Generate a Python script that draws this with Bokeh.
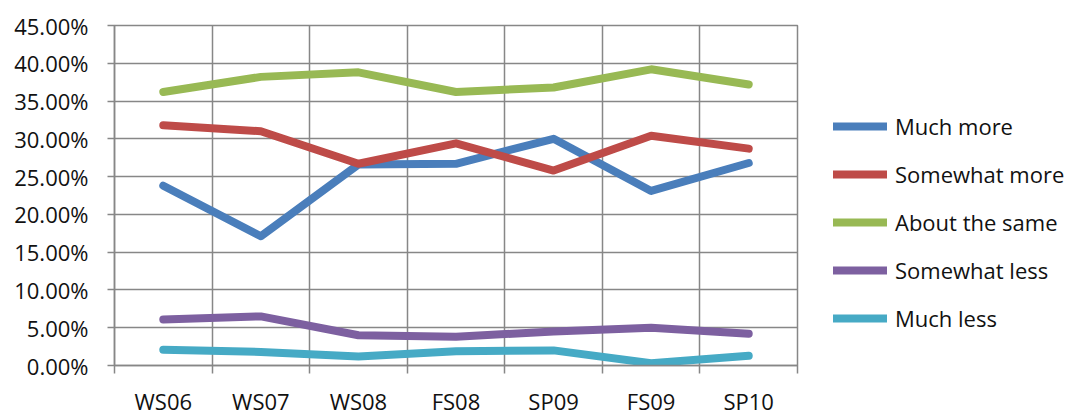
from bokeh.plotting import figure
from bokeh.models import Range1d, FixedTicker, NumeralTickFormatter, Legend, LegendItem
from bokeh.embed import file_html
from bokeh.resources import INLINE

categories = ["WS06", "WS07", "WS08", "FS08", "SP09", "FS09", "SP10"]
much_more = [0.238, 0.171, 0.266, 0.267, 0.300, 0.231, 0.268]
somewhat_more = [0.318, 0.310, 0.267, 0.294, 0.258, 0.304, 0.287]
about_same = [0.362, 0.382, 0.388, 0.362, 0.368, 0.392, 0.372]
somewhat_less = [0.061, 0.065, 0.040, 0.038, 0.045, 0.050, 0.042]
much_less = [0.021, 0.018, 0.012, 0.019, 0.020, 0.003, 0.013]
y_ticks = [0.0, 0.05, 0.10, 0.15, 0.20, 0.25, 0.30, 0.35, 0.40, 0.45]

series = [
    ("Much more", much_more, "#4A7EBB"),
    ("Somewhat more", somewhat_more, "#BE4B48"),
    ("About the same", about_same, "#98B954"),
    ("Somewhat less", somewhat_less, "#7D60A0"),
    ("Much less", much_less, "#46AAC5"),
]

n = len(categories)
centers = [i + 0.5 for i in range(n)]
bounds = [float(i) for i in range(n + 1)]

FONT = "Open Sans"
GRID = "#878787"

p = figure(frame_width=683, frame_height=340, output_backend="svg", toolbar_location=None,
           x_range=Range1d(0, n), y_range=Range1d(y_ticks[0], y_ticks[-1]),
           min_border_left=114, min_border_top=25, min_border_right=269, min_border_bottom=44)
p.background_fill_color = "white"
p.border_fill_color = "white"
p.outline_line_color = GRID
p.outline_line_width = 1.5

# y axis
p.yaxis.ticker = FixedTicker(ticks=y_ticks)
p.yaxis.formatter = NumeralTickFormatter(format="0.00%")
p.yaxis.axis_line_color = GRID
p.yaxis.axis_line_width = 1.5
p.yaxis.major_tick_line_color = GRID
p.yaxis.major_tick_line_width = 1.5
p.yaxis.major_tick_out = 7
p.yaxis.major_tick_in = 0
p.yaxis.minor_tick_line_color = None
p.yaxis.major_label_standoff = 19
p.yaxis.major_label_text_font = FONT
p.yaxis.major_label_text_font_size = "22px"
p.yaxis.major_label_text_color = "#111111"

# x axis: labels at centers, ticks at boundaries
p.xaxis.ticker = FixedTicker(ticks=centers, minor_ticks=bounds)
p.xaxis.major_label_overrides = {c: name for c, name in zip(centers, categories)}
p.xaxis.axis_line_color = GRID
p.xaxis.axis_line_width = 1.5
p.xaxis.major_tick_line_color = None
p.xaxis.major_tick_out = 0
p.xaxis.major_tick_in = 0
p.xaxis.minor_tick_line_color = GRID
p.xaxis.minor_tick_line_width = 1.5
p.xaxis.minor_tick_out = 8
p.xaxis.minor_tick_in = 0
p.xaxis.major_label_standoff = 12
p.xaxis.major_label_text_font = FONT
p.xaxis.major_label_text_font_size = "22px"
p.xaxis.major_label_text_color = "#111111"

p.xgrid.ticker = FixedTicker(ticks=bounds)
p.xgrid.grid_line_color = GRID
p.xgrid.grid_line_width = 1.5
p.ygrid.grid_line_color = GRID
p.ygrid.grid_line_width = 1.5

items = []
for name, vals, color in series:
    r = p.line(centers, vals, line_color=color, line_width=8,
               line_join="round", line_cap="round")
    items.append(LegendItem(label=name, renderers=[r]))

legend = Legend(items=items, location=(36, 32), orientation="vertical",
                glyph_width=54, glyph_height=24, label_height=24, spacing=18,
                label_standoff=8, padding=0, margin=0,
                label_text_font=FONT, label_text_font_size="22px",
                label_text_color="#111111", border_line_color=None,
                background_fill_alpha=0)
p.add_layout(legend, "right")

open("out.html", "w").write(file_html(p, INLINE))
